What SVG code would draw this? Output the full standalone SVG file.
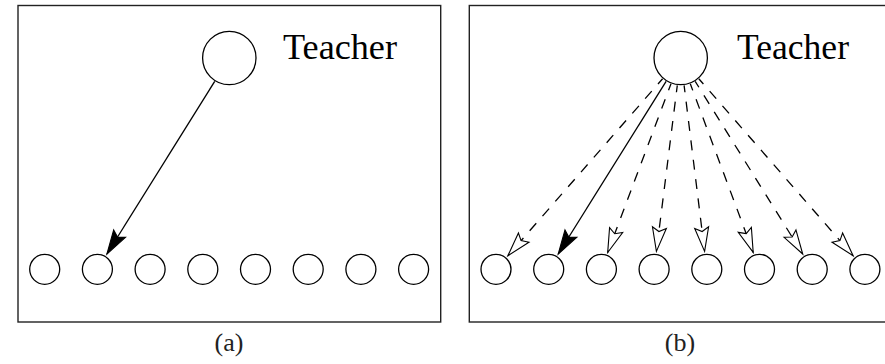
<svg xmlns="http://www.w3.org/2000/svg" width="885" height="364" viewBox="0 0 885 364">
  <style>
    .frame { fill: none; stroke: #222; stroke-width: 1.4; }
    .node { fill: #fff; stroke: #000; stroke-width: 1.3; }
    .label { font-family: "Liberation Serif", "DejaVu Serif", serif; font-size: 36px; fill: #000; }
    .cap { font-family: "Liberation Serif", "DejaVu Serif", serif; font-size: 26px; fill: #222; text-anchor: middle; }
    .solid { stroke: #000; stroke-width: 1.3; fill: none; marker-end: url(#stealthFilled); }
    .dashed { stroke: #000; stroke-width: 1.3; fill: none; stroke-dasharray: 10 9.5; stroke-dashoffset: 3; marker-end: url(#stealthOpen); }
  </style>
  <defs>
    <marker id="stealthFilled" markerUnits="userSpaceOnUse" viewBox="-28 -9 31 18" markerWidth="31" markerHeight="18" refX="0" refY="0" orient="auto" overflow="visible">
      <path d="M0,0 L-24,-7 L-20,0 L-24,7 Z" fill="#000" stroke="#000" stroke-width="1.1" stroke-linejoin="miter"/>
    </marker>
    <marker id="stealthOpen" markerUnits="userSpaceOnUse" viewBox="-28 -9 31 18" markerWidth="31" markerHeight="18" refX="0" refY="0" orient="auto" overflow="visible">
      <path d="M0,0 L-24,-7 L-20,0 L-24,7 Z" fill="#fff" stroke="#000" stroke-width="1.1" stroke-linejoin="miter" stroke-dasharray="none"/>
    </marker>
  </defs>

  <!-- Panel (a) -->
  <rect class="frame" x="18" y="5.5" width="422.7" height="316.5"/>
  <!-- Panel (b) -->
  <rect class="frame" x="469.3" y="5.5" width="422.7" height="316.5"/>

  <g id="connectors">
    <line class="solid" x1="214.7" y1="81.3" x2="106.9" y2="254.0"/>
    <line class="dashed" x1="662.6" y1="78.7" x2="507.9" y2="255.7"/>
    <line class="solid" x1="666.1" y1="81.3" x2="558.2" y2="254.0"/>
    <line class="dashed" x1="671.0" y1="83.7" x2="607.7" y2="252.5"/>
    <line class="dashed" x1="677.3" y1="85.3" x2="656.4" y2="251.4"/>
    <line class="dashed" x1="684.1" y1="85.3" x2="704.6" y2="251.4"/>
    <line class="dashed" x1="690.3" y1="83.8" x2="753.2" y2="252.4"/>
    <line class="dashed" x1="695.2" y1="81.3" x2="802.7" y2="254.0"/>
    <line class="dashed" x1="698.8" y1="78.7" x2="853.1" y2="255.7"/>
  </g>

  <g id="teacher-a">
    <circle class="node" cx="229.3" cy="58" r="26.7"/>
    <text class="label" x="283" y="59.3" textLength="114" lengthAdjust="spacingAndGlyphs">Teacher</text>
  </g>
  <g id="student-a1"><circle class="node" cx="44.7" cy="269.3" r="15"/></g>
  <g id="student-a2"><circle class="node" cx="97.4" cy="269.3" r="15"/></g>
  <g id="student-a3"><circle class="node" cx="150.1" cy="269.3" r="15"/></g>
  <g id="student-a4"><circle class="node" cx="202.8" cy="269.3" r="15"/></g>
  <g id="student-a5"><circle class="node" cx="255.5" cy="269.3" r="15"/></g>
  <g id="student-a6"><circle class="node" cx="308.2" cy="269.3" r="15"/></g>
  <g id="student-a7"><circle class="node" cx="360.9" cy="269.3" r="15"/></g>
  <g id="student-a8"><circle class="node" cx="413.6" cy="269.3" r="15"/></g>

  <g id="teacher-b">
    <circle class="node" cx="680.7" cy="58" r="26.7"/>
    <text class="label" x="737" y="59.3" textLength="112" lengthAdjust="spacingAndGlyphs">Teacher</text>
  </g>
  <g id="student-b1"><circle class="node" cx="496" cy="269.3" r="15"/></g>
  <g id="student-b2"><circle class="node" cx="548.7" cy="269.3" r="15"/></g>
  <g id="student-b3"><circle class="node" cx="601.4" cy="269.3" r="15"/></g>
  <g id="student-b4"><circle class="node" cx="654.1" cy="269.3" r="15"/></g>
  <g id="student-b5"><circle class="node" cx="706.8" cy="269.3" r="15"/></g>
  <g id="student-b6"><circle class="node" cx="759.5" cy="269.3" r="15"/></g>
  <g id="student-b7"><circle class="node" cx="812.2" cy="269.3" r="15"/></g>
  <g id="student-b8"><circle class="node" cx="864.9" cy="269.3" r="15"/></g>

  <text class="cap" x="229" y="351">(a)</text>
  <text class="cap" x="680" y="351">(b)</text>
</svg>
